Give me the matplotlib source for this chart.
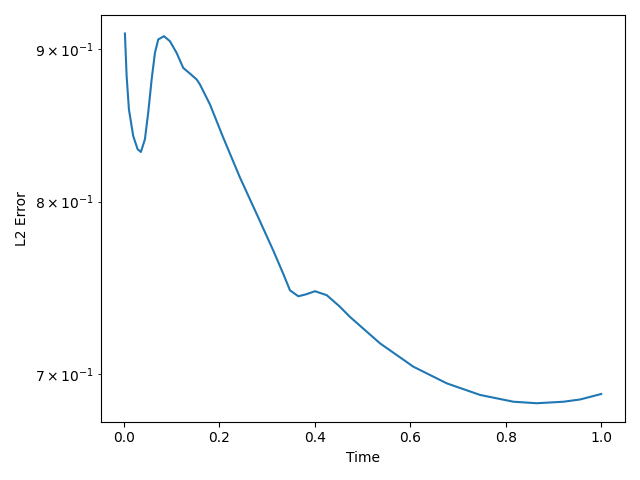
import matplotlib
matplotlib.use("Agg")
import matplotlib.pyplot as plt

time = [0.0021, 0.0057, 0.0105, 0.0195, 0.0287, 0.0356, 0.0440, 0.0509, 0.0581,
        0.0650, 0.0719, 0.0839, 0.0964, 0.1105, 0.1243, 0.1384, 0.1524, 0.1593,
        0.1698, 0.1803, 0.2082, 0.2432, 0.2782, 0.3130, 0.3340, 0.3480, 0.3654,
        0.3816, 0.4004, 0.4250, 0.4514, 0.4738, 0.5367, 0.6065, 0.6765, 0.7463,
        0.8161, 0.8652, 0.9210, 0.9560, 1.0]
l2_error = [0.9110, 0.8815, 0.8591, 0.8416, 0.8331, 0.8313, 0.8395, 0.8569, 0.8792,
            0.8974, 0.9068, 0.9091, 0.9056, 0.8974, 0.8871, 0.8832, 0.8792, 0.8758,
            0.8691, 0.8624, 0.8405, 0.8150, 0.7924, 0.7703, 0.7565, 0.7470, 0.7436,
            0.7447, 0.7465, 0.7442, 0.7379, 0.7318, 0.7170, 0.7042, 0.6952, 0.6890,
            0.6854, 0.6846, 0.6854, 0.6866, 0.6895]

fig, ax = plt.subplots(figsize=(6.4, 4.8), dpi=100)
ax.plot(time, l2_error, color="#1f77b4")
ax.set_yscale("log")
ax.set_xlabel("Time")
ax.set_ylabel("L2 Error")
fig.tight_layout()
fig.savefig("out.png")
